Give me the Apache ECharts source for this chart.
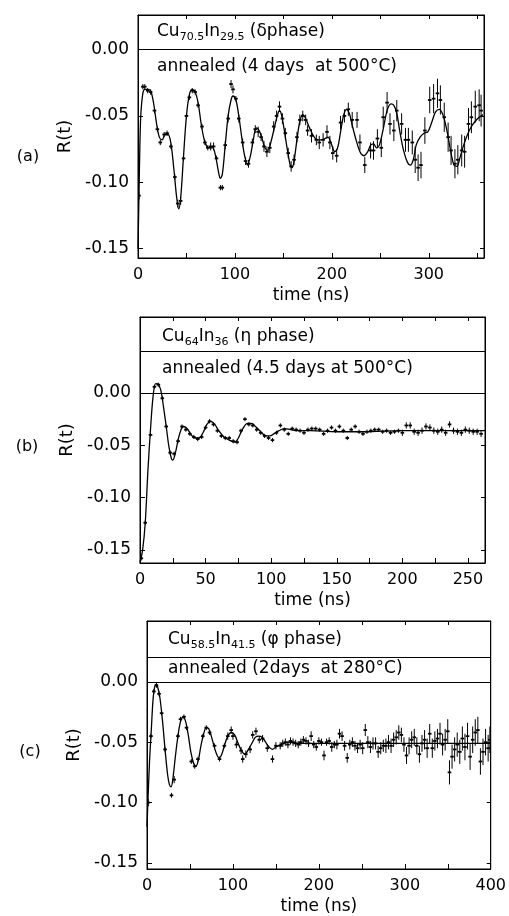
<!DOCTYPE html>
<html>
<head>
<meta charset="utf-8">
<script src="https://cdn.jsdelivr.net/npm/echarts@6/dist/echarts.min.js"></script>
<style>
html,body{margin:0;padding:0;background:#fff;}
#chart{width:509px;height:916px;}
</style>
</head>
<body>
<div id="chart"></div>
<script>
// ---------- tick labels ----------
const xTicksA = [0, 100, 200, 300];
const xTicksB = [0, 50, 100, 150, 200, 250];
const xTicksC = [0, 100, 200, 300, 400];
const yTicks = [0, -0.05, -0.10, -0.15];

// ---------- panel (a): Cu70.5In29.5 (delta phase) ----------
const fitA = [[0,-0.150],[1,-0.110],[2,-0.070],[3,-0.048],[5,-0.033],[7,-0.030],[10,-0.030],[13,-0.031],[16,-0.040],[19,-0.055],[22,-0.066],[25,-0.068],[28,-0.064],[31,-0.064],[34,-0.071],[37,-0.090],[40,-0.112],[42,-0.120],[44,-0.112],[47,-0.080],[50,-0.050],[53,-0.034],[56,-0.030],[59,-0.032],[62,-0.040],[65,-0.055],[68,-0.067],[71,-0.073],[74,-0.074],[77,-0.074],[80,-0.080],[83,-0.092],[85,-0.097],[87,-0.094],[90,-0.072],[93,-0.050],[96,-0.038],[98,-0.035],[101,-0.038],[104,-0.050],[107,-0.066],[110,-0.080],[113,-0.087],[116,-0.080],[119,-0.068],[122,-0.059],[125,-0.061],[128,-0.067],[131,-0.074],[134,-0.076],[137,-0.070],[141,-0.058],[144,-0.049],[146,-0.046],[148,-0.049],[151,-0.061],[154,-0.075],[157,-0.087],[159,-0.089],[161,-0.084],[164,-0.068],[167,-0.054],[170,-0.049],[173,-0.052],[177,-0.059],[181,-0.065],[185,-0.068],[189,-0.068],[193,-0.067],[196,-0.066],[199,-0.070],[203,-0.077],[206,-0.074],[209,-0.062],[212,-0.050],[215,-0.045],[218,-0.048],[221,-0.057],[225,-0.068],[229,-0.077],[233,-0.080],[237,-0.077],[240,-0.072],[243,-0.071],[246,-0.074],[249,-0.072],[253,-0.060],[257,-0.046],[261,-0.041],[264,-0.042],[267,-0.048],[270,-0.061],[274,-0.076],[278,-0.085],[281,-0.087],[284,-0.083],[287,-0.072],[291,-0.066],[295,-0.063],[299,-0.062],[303,-0.055],[307,-0.047],[311,-0.045],[315,-0.050],[319,-0.062],[323,-0.078],[326,-0.087],[329,-0.088],[332,-0.082],[336,-0.072],[340,-0.064],[344,-0.058],[348,-0.054],[352,-0.051],[356,-0.049]];
const dataA = [[1,-0.110,0.003],[5,-0.028,0.002],[7,-0.028,0.002],[10,-0.031,0.002],[13,-0.032,0.002],[17,-0.046,0.002],[20,-0.060,0.002],[23,-0.070,0.002],[27,-0.064,0.002],[30,-0.063,0.002],[34,-0.073,0.002],[38,-0.096,0.002],[41,-0.116,0.003],[44,-0.114,0.003],[47,-0.082,0.002],[50,-0.050,0.002],[53,-0.036,0.002],[56,-0.031,0.002],[59,-0.032,0.002],[62,-0.042,0.002],[66,-0.058,0.002],[69,-0.070,0.002],[72,-0.074,0.002],[75,-0.073,0.003],[78,-0.073,0.003],[81,-0.082,0.002],[85,-0.104,0.002],[87,-0.104,0.002],[90,-0.072,0.003],[93,-0.052,0.003],[96,-0.026,0.003],[98,-0.030,0.003],[101,-0.037,0.002],[104,-0.052,0.003],[108,-0.070,0.003],[111,-0.084,0.003],[114,-0.086,0.003],[118,-0.070,0.003],[121,-0.060,0.003],[124,-0.062,0.004],[127,-0.066,0.003],[130,-0.073,0.004],[133,-0.077,0.004],[136,-0.074,0.004],[140,-0.058,0.004],[143,-0.050,0.004],[146,-0.043,0.004],[149,-0.052,0.004],[152,-0.063,0.004],[155,-0.078,0.004],[158,-0.088,0.004],[161,-0.083,0.004],[164,-0.066,0.004],[167,-0.053,0.004],[170,-0.050,0.004],[173,-0.053,0.004],[175,-0.061,0.004],[179,-0.065,0.005],[184,-0.068,0.004],[187,-0.070,0.005],[191,-0.068,0.005],[195,-0.062,0.005],[198,-0.070,0.005],[201,-0.078,0.005],[205,-0.080,0.005],[209,-0.055,0.005],[213,-0.050,0.005],[217,-0.045,0.005],[221,-0.053,0.006],[226,-0.053,0.006],[229,-0.070,0.006],[234,-0.087,0.006],[240,-0.076,0.006],[243,-0.076,0.007],[247,-0.067,0.007],[251,-0.074,0.007],[253,-0.051,0.008],[257,-0.040,0.008],[260,-0.056,0.008],[264,-0.061,0.008],[267,-0.046,0.008],[272,-0.056,0.008],[276,-0.068,0.009],[279,-0.068,0.009],[283,-0.070,0.009],[286,-0.083,0.010],[289,-0.089,0.010],[292,-0.087,0.010],[296,-0.061,0.010],[301,-0.038,0.010],[305,-0.037,0.011],[309,-0.033,0.011],[312,-0.038,0.011],[316,-0.051,0.011],[320,-0.066,0.011],[323,-0.076,0.011],[327,-0.086,0.011],[330,-0.083,0.011],[334,-0.076,0.012],[337,-0.077,0.012],[341,-0.056,0.012],[344,-0.051,0.012],[348,-0.043,0.012],[352,-0.042,0.012],[354,-0.046,0.012]];

// ---------- panel (b): Cu64In36 (eta phase) ----------
const fitB = [[0,-0.162],[2,-0.150],[4,-0.124],[6,-0.075],[8,-0.035],[10,-0.003],[12,0.009],[14,0.008],[16,0.002],[18,-0.014],[20,-0.032],[22,-0.051],[24,-0.063],[25,-0.064],[27,-0.057],[29,-0.045],[31,-0.036],[33,-0.032],[36,-0.034],[39,-0.040],[42,-0.043],[45,-0.043],[48,-0.038],[51,-0.030],[54,-0.027],[57,-0.030],[60,-0.036],[64,-0.042],[68,-0.045],[72,-0.047],[75,-0.043],[78,-0.035],[82,-0.029],[85,-0.029],[88,-0.032],[92,-0.037],[96,-0.041],[99,-0.041],[102,-0.039],[106,-0.036],[110,-0.034],[115,-0.035],[120,-0.036],[130,-0.036],[150,-0.037],[170,-0.037],[200,-0.036],[230,-0.036],[263,-0.036]];
const dataB = [[1,-0.158,0.002],[4,-0.124,0.002],[8,-0.040,0.002],[11,0.006,0.002],[14,0.008,0.002],[17,-0.005,0.002],[20,-0.032,0.002],[23,-0.057,0.002],[26,-0.058,0.002],[29,-0.046,0.002],[32,-0.032,0.002],[35,-0.035,0.002],[38,-0.039,0.002],[41,-0.042,0.002],[44,-0.044,0.002],[47,-0.042,0.002],[50,-0.033,0.002],[53,-0.027,0.002],[56,-0.030,0.002],[59,-0.036,0.002],[62,-0.041,0.002],[65,-0.043,0.002],[68,-0.043,0.002],[71,-0.046,0.002],[74,-0.047,0.002],[77,-0.036,0.002],[80,-0.025,0.002],[83,-0.030,0.002],[86,-0.031,0.002],[89,-0.035,0.002],[92,-0.038,0.002],[95,-0.041,0.002],[98,-0.043,0.002],[101,-0.045,0.002],[104,-0.038,0.002],[107,-0.031,0.002],[110,-0.035,0.002],[113,-0.039,0.002],[116,-0.034,0.002],[119,-0.035,0.002],[122,-0.036,0.002],[125,-0.038,0.002],[128,-0.035,0.002],[131,-0.034,0.002],[134,-0.034,0.002],[137,-0.035,0.002],[140,-0.039,0.002],[143,-0.036,0.002],[146,-0.033,0.002],[149,-0.036,0.002],[152,-0.032,0.002],[155,-0.036,0.002],[158,-0.043,0.002],[161,-0.035,0.002],[164,-0.032,0.002],[167,-0.037,0.002],[170,-0.039,0.002],[173,-0.037,0.002],[176,-0.036,0.002],[179,-0.035,0.002],[182,-0.035,0.002],[185,-0.037,0.002],[188,-0.036,0.002],[191,-0.038,0.002],[194,-0.037,0.002],[197,-0.036,0.002],[200,-0.038,0.003],[203,-0.031,0.003],[206,-0.031,0.003],[209,-0.037,0.003],[212,-0.038,0.003],[215,-0.036,0.003],[218,-0.032,0.003],[221,-0.033,0.003],[224,-0.036,0.003],[227,-0.037,0.003],[230,-0.035,0.003],[233,-0.038,0.003],[236,-0.030,0.003],[239,-0.036,0.003],[242,-0.037,0.003],[245,-0.038,0.003],[248,-0.035,0.003],[251,-0.036,0.003],[254,-0.037,0.003],[257,-0.037,0.003],[260,-0.039,0.003]];

// ---------- panel (c): Cu58.5In41.5 (phi phase) ----------
const fitC = [[0,-0.120],[1,-0.100],[3,-0.065],[5,-0.040],[7,-0.015],[9,-0.004],[11,-0.002],[13,-0.006],[15,-0.013],[18,-0.032],[21,-0.056],[24,-0.077],[26,-0.085],[28,-0.087],[30,-0.081],[33,-0.062],[36,-0.045],[39,-0.033],[42,-0.029],[45,-0.033],[48,-0.044],[51,-0.058],[54,-0.067],[57,-0.070],[60,-0.064],[63,-0.052],[66,-0.043],[69,-0.038],[72,-0.039],[76,-0.048],[80,-0.058],[84,-0.063],[87,-0.060],[90,-0.053],[94,-0.045],[98,-0.042],[102,-0.044],[106,-0.051],[110,-0.057],[114,-0.060],[118,-0.056],[122,-0.051],[126,-0.046],[130,-0.045],[134,-0.046],[138,-0.050],[142,-0.054],[146,-0.056],[150,-0.054],[156,-0.052],[165,-0.050],[175,-0.051],[200,-0.051],[250,-0.051],[300,-0.051],[350,-0.051],[400,-0.051]];
const dataC = [[1.5,-0.100,0.003],[4.6,-0.045,0.002],[8,-0.008,0.002],[11,-0.003,0.002],[14,-0.010,0.002],[17,-0.026,0.002],[21,-0.056,0.002],[28.5,-0.094,0.002],[31.6,-0.081,0.003],[36,-0.045,0.002],[39,-0.031,0.002],[43,-0.029,0.002],[46,-0.038,0.002],[51.6,-0.066,0.002],[55.5,-0.070,0.002],[59.3,-0.064,0.002],[65,-0.045,0.002],[69,-0.038,0.002],[72.8,-0.042,0.002],[78.6,-0.053,0.002],[84.4,-0.064,0.002],[90,-0.053,0.002],[94,-0.045,0.003],[98,-0.040,0.003],[100,-0.045,0.003],[104,-0.052,0.003],[109.5,-0.057,0.003],[111.4,-0.064,0.003],[115,-0.060,0.003],[120,-0.056,0.003],[123,-0.044,0.003],[126.8,-0.041,0.003],[130.6,-0.048,0.003],[134.5,-0.047,0.003],[140,-0.055,0.003],[146,-0.064,0.003],[150,-0.053,0.003],[155,-0.053,0.003],[158,-0.051,0.003],[161,-0.050,0.003],[164,-0.052,0.003],[167,-0.049,0.003],[170,-0.050,0.003],[173,-0.051,0.003],[176,-0.052,0.003],[179,-0.050,0.003],[182,-0.048,0.003],[185,-0.049,0.003],[188,-0.051,0.003],[191,-0.045,0.004],[194,-0.052,0.003],[197,-0.054,0.003],[200,-0.049,0.003],[203,-0.050,0.003],[206,-0.061,0.004],[209,-0.050,0.003],[212,-0.049,0.003],[215,-0.054,0.004],[218,-0.052,0.003],[221,-0.052,0.004],[224,-0.043,0.004],[227,-0.045,0.004],[230,-0.053,0.004],[233,-0.063,0.004],[236,-0.052,0.004],[239,-0.050,0.004],[242,-0.053,0.004],[245,-0.055,0.004],[248,-0.052,0.004],[251,-0.055,0.005],[254,-0.040,0.005],[257,-0.050,0.005],[260,-0.054,0.005],[263,-0.051,0.005],[266,-0.051,0.005],[269,-0.058,0.005],[272,-0.055,0.005],[275,-0.053,0.005],[278,-0.053,0.006],[281,-0.050,0.006],[284,-0.053,0.006],[287,-0.048,0.006],[290,-0.046,0.006],[293,-0.042,0.006],[296,-0.044,0.006],[299,-0.052,0.006],[302,-0.061,0.007],[305,-0.053,0.007],[308,-0.048,0.007],[311,-0.046,0.007],[314,-0.053,0.007],[317,-0.060,0.007],[320,-0.051,0.007],[323,-0.048,0.008],[326,-0.055,0.008],[329,-0.043,0.008],[332,-0.055,0.008],[335,-0.049,0.008],[338,-0.047,0.008],[341,-0.043,0.009],[344,-0.052,0.009],[347,-0.048,0.009],[350,-0.041,0.010],[352,-0.075,0.010],[355,-0.062,0.010],[358,-0.056,0.010],[361,-0.052,0.010],[364,-0.058,0.010],[367,-0.047,0.010],[370,-0.054,0.011],[373,-0.045,0.011],[376,-0.062,0.011],[379,-0.048,0.011],[382,-0.042,0.011],[385,-0.040,0.011],[388,-0.066,0.011],[391,-0.058,0.011],[394,-0.050,0.011],[397,-0.055,0.011],[399,-0.048,0.011]];

// ---------- texts ----------
const labelsABC = ['(a)', '(b)', '(c)'];
const titlesRich = [
  '{m|Cu}{s|70.5}{m|In}{s|29.5}{m| (δphase)}',
  '{m|Cu}{s|64}{m|In}{s|36}{m| (η phase)}',
  '{m|Cu}{s|58.5}{m|In}{s|41.5}{m| (φ phase)}'
];
const annealTexts = ['annealed (4 days  at 500°C)', 'annealed (4.5 days at 500°C)', 'annealed (2days  at 280°C)'];
const xName = 'time (ns)';
const yName = 'R(t)';

// ---------- layout ----------
const FONT = 'DejaVu Sans';
const grids = [
  {left: 138, top: 15, width: 346, height: 243},
  {left: 140, top: 317, width: 345, height: 246},
  {left: 147, top: 621, width: 346, height: 249}
];
const xRanges = [[0, 357], [0, 263], [0, 400]];
const yRanges = [[-0.157, 0.026], [-0.1625, 0.0727], [-0.155, 0.0503]];
const xTickSets = [xTicksA, xTicksB, xTicksC];
const xMinorSets = [[50,150,250,350],[25,75,125,175,225],[50,150,250,350]];
const dividerLines = [[0], [0, 0.039], [0, 0.0206]];
const yNameGaps = [58, 58, 64];
const fits = [fitA, fitB, fitC];
const datas = [dataA, dataB, dataC];

const xAxes = [], yAxes = [], series = [], graphics = [];
const fmtY = v => (v === 0 ? '0.00' : '-' + Math.abs(v).toFixed(2));

grids.forEach((g, i) => {
  const xt = xTickSets[i];
  xAxes.push({
    type: 'value', gridIndex: i, min: xRanges[i][0], max: xRanges[i][1], position: 'bottom',
    name: xName, nameLocation: 'middle', nameGap: 29,
    nameTextStyle: {color: '#000', fontSize: 17, fontFamily: FONT},
    axisLine: {show: true, onZero: false, lineStyle: {color: '#000', width: 1}},
    axisTick: {show: true, inside: true, length: 5, lineStyle: {color: '#000'}, customValues: xt.concat(xMinorSets[i])},
    axisLabel: {color: '#000', fontSize: 16, fontFamily: FONT, margin: 9, customValues: xt},
    splitLine: {show: false}
  });
  xAxes.push({
    type: 'value', gridIndex: i, min: xRanges[i][0], max: xRanges[i][1], position: 'top',
    axisLine: {show: true, onZero: false, lineStyle: {color: '#000', width: 1}},
    axisTick: {show: true, inside: true, length: 4, lineStyle: {color: '#000'}, customValues: xt.concat(xMinorSets[i])},
    axisLabel: {show: false}, splitLine: {show: false}
  });
  yAxes.push({
    type: 'value', gridIndex: i, min: yRanges[i][0], max: yRanges[i][1], position: 'left',
    name: yName, nameLocation: 'middle', nameGap: yNameGaps[i], nameRotate: 90,
    nameTextStyle: {color: '#000', fontSize: 18, fontFamily: FONT},
    axisLine: {show: true, onZero: false, lineStyle: {color: '#000', width: 1}},
    axisTick: {show: true, inside: true, length: 5, lineStyle: {color: '#000'}, customValues: yTicks},
    axisLabel: {color: '#000', fontSize: 17, fontFamily: FONT, margin: 9, customValues: yTicks, formatter: fmtY},
    splitLine: {show: false}
  });
  yAxes.push({
    type: 'value', gridIndex: i, min: yRanges[i][0], max: yRanges[i][1], position: 'right',
    axisLine: {show: true, onZero: false, lineStyle: {color: '#000', width: 1}},
    axisTick: {show: true, inside: true, length: 4, lineStyle: {color: '#000'}, customValues: yTicks},
    axisLabel: {show: false}, splitLine: {show: false}
  });
  series.push({
    type: 'line', xAxisIndex: 2 * i, yAxisIndex: 2 * i, data: fits[i],
    smooth: 0.35, symbol: 'none', clip: true,
    lineStyle: {color: '#000', width: 1.3},
    markLine: {
      silent: true, symbol: 'none', label: {show: false},
      lineStyle: {color: '#000', width: 1, type: 'solid'},
      data: dividerLines[i].map(v => ({yAxis: v}))
    },
    z: 3
  });
  series.push({
    type: 'custom', xAxisIndex: 2 * i, yAxisIndex: 2 * i, data: datas[i], clip: true,
    encode: {x: 0, y: 1},
    renderItem: function (params, api) {
      const t = api.value(0), v = api.value(1), e = api.value(2);
      const p0 = api.coord([t, v - e]);
      const p1 = api.coord([t, v + e]);
      const pc = api.coord([t, v]);
      return {
        type: 'group',
        children: [
          {type: 'line', shape: {x1: p0[0], y1: p0[1], x2: p1[0], y2: p1[1]}, style: {stroke: '#000', lineWidth: 1}},
          {type: 'line', shape: {x1: pc[0] - 1.8, y1: pc[1], x2: pc[0] + 1.8, y2: pc[1]}, style: {stroke: '#000', lineWidth: 1.8}}
        ]
      };
    },
    z: 4
  });
});

const richStyle = {
  m: {fontSize: 17, fontFamily: FONT, fill: '#000', lineHeight: 22},
  s: {fontSize: 11, fontFamily: FONT, fill: '#000', lineHeight: 22, verticalAlign: 'bottom'}
};
const titlePos = [[157, 32], [162, 337], [168, 640]];
const annealPos = [[157, 67], [162, 369], [168, 669]];
const letterPos = [[28, 157], [27, 447], [30, 752]];
for (let i = 0; i < 3; i++) {
  graphics.push({type: 'text', x: titlePos[i][0], y: titlePos[i][1],
    style: {text: titlesRich[i], rich: richStyle, verticalAlign: 'middle', align: 'left'}});
  graphics.push({type: 'text', x: annealPos[i][0], y: annealPos[i][1],
    style: {text: annealTexts[i], fontSize: 17, fontFamily: FONT, fill: '#000', verticalAlign: 'middle', align: 'left'}});
  graphics.push({type: 'text', x: letterPos[i][0], y: letterPos[i][1],
    style: {text: labelsABC[i], fontSize: 16, fontFamily: FONT, fill: '#000', verticalAlign: 'middle', align: 'center'}});
}

const chart = echarts.init(document.getElementById('chart'), null, {renderer: 'canvas'});
chart.setOption({
  backgroundColor: '#fff',
  animation: false,
  grid: grids.map(g => Object.assign({show: true, borderColor: '#000', borderWidth: 1, backgroundColor: 'transparent'}, g)),
  xAxis: xAxes,
  yAxis: yAxes,
  series: series,
  graphic: graphics
});
</script>
</body>
</html>
